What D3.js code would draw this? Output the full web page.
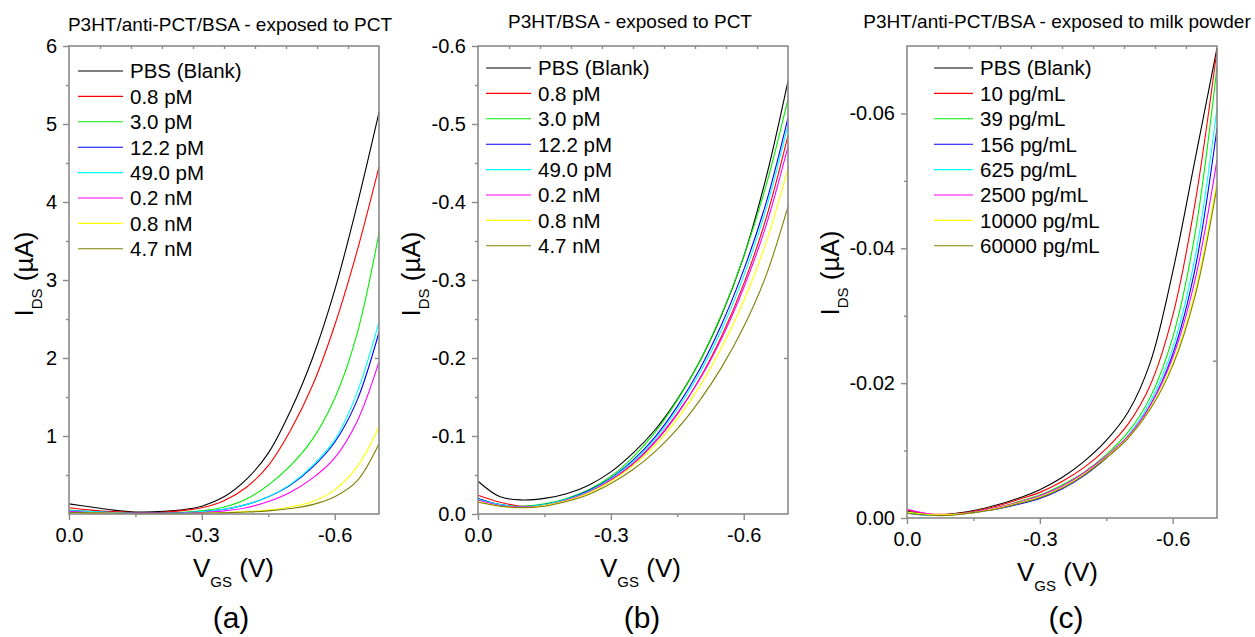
<!DOCTYPE html>
<html><head><meta charset="utf-8">
<script src="https://cdn.jsdelivr.net/npm/d3@7"></script>
<style>
body{margin:0;background:#fff}
svg{display:block}
text{font-family:"Liberation Sans",Arial,sans-serif;fill:#000}
</style>
</head><body>
<svg id="chart" width="1255" height="637"></svg>
<script>
// ---------- DATA ----------
const vgs = [0,-0.05,-0.1,-0.15,-0.2,-0.25,-0.3,-0.35,-0.4,-0.45,-0.5,-0.55,-0.6,-0.65,-0.7];

const titleA = "P3HT/anti-PCT/BSA - exposed to PCT";
const titleB = "P3HT/BSA - exposed to PCT";
const titleC = "P3HT/anti-PCT/BSA - exposed to milk powder";

const namesPCT = ["PBS (Blank)","0.8 pM","3.0 pM","12.2 pM","49.0 pM","0.2 nM","0.8 nM","4.7 nM"];
const namesMilk = ["PBS (Blank)","10 pg/mL","39 pg/mL","156 pg/mL","625 pg/mL","2500 pg/mL","10000 pg/mL","60000 pg/mL"];
const seriesColors = ["#000000","#ff0000","#00ee00","#0000ff","#00ffff","#ff00ff","#ffff00","#808000"];

// Panel (a) IDS (µA)
const a_PBS  = [0.13,0.09,0.05,0.025,0.03,0.05,0.10,0.22,0.44,0.78,1.32,2.00,2.87,3.95,5.15];
const a_0p8  = [0.08,0.05,0.03,0.02,0.02,0.04,0.08,0.17,0.34,0.62,1.07,1.65,2.42,3.36,4.45];
const a_3p0  = [0.05,0.03,0.02,0.01,0.01,0.02,0.04,0.09,0.19,0.37,0.62,0.96,1.48,2.30,3.60];
const a_12p2 = [0.04,0.03,0.02,0.01,0.01,0.01,0.03,0.06,0.12,0.22,0.37,0.60,0.92,1.45,2.33];
const a_49p0 = [0.04,0.03,0.02,0.01,0.01,0.01,0.03,0.06,0.12,0.22,0.38,0.62,0.95,1.55,2.46];
const a_0p2n = [0.03,0.02,0.01,0.01,0.01,0.01,0.02,0.04,0.08,0.16,0.28,0.46,0.72,1.18,1.95];
const a_0p8n = [0.02,0.015,0.01,0.005,0.005,0.005,0.01,0.02,0.03,0.05,0.09,0.16,0.31,0.60,1.12];
const a_4p7n = [0.02,0.015,0.01,0.005,0.005,0.005,0.01,0.015,0.025,0.04,0.07,0.12,0.22,0.42,0.90];

// Panel (b) IDS (µA)
const b_PBS  = [-0.042,-0.022,-0.018,-0.020,-0.026,-0.037,-0.054,-0.078,-0.108,-0.147,-0.195,-0.255,-0.330,-0.430,-0.555];
const b_0p8  = [-0.024,-0.015,-0.010,-0.012,-0.018,-0.028,-0.043,-0.064,-0.092,-0.128,-0.173,-0.228,-0.295,-0.378,-0.485];
const b_3p0  = [-0.020,-0.012,-0.010,-0.013,-0.020,-0.031,-0.048,-0.073,-0.105,-0.146,-0.195,-0.256,-0.330,-0.420,-0.532];
const b_12p2 = [-0.020,-0.012,-0.009,-0.012,-0.019,-0.030,-0.046,-0.069,-0.099,-0.138,-0.185,-0.243,-0.313,-0.398,-0.508];
const b_49p0 = [-0.019,-0.012,-0.009,-0.012,-0.019,-0.029,-0.045,-0.067,-0.096,-0.134,-0.180,-0.236,-0.305,-0.390,-0.499];
const b_0p2n = [-0.018,-0.011,-0.009,-0.011,-0.018,-0.028,-0.044,-0.065,-0.093,-0.129,-0.172,-0.225,-0.290,-0.369,-0.471];
const b_0p8n = [-0.016,-0.010,-0.008,-0.011,-0.017,-0.027,-0.042,-0.062,-0.088,-0.122,-0.163,-0.213,-0.273,-0.347,-0.443];
const b_4p7n = [-0.015,-0.010,-0.008,-0.010,-0.016,-0.025,-0.039,-0.057,-0.080,-0.109,-0.145,-0.188,-0.240,-0.305,-0.394];

// Panel (c) IDS (µA)
const c_PBS   = [-0.0010,-0.0005,-0.0006,-0.0011,-0.0019,-0.0029,-0.0042,-0.0060,-0.0084,-0.0115,-0.0158,-0.0232,-0.0365,-0.0530,-0.0697];
const c_10    = [-0.0012,-0.0006,-0.0006,-0.0010,-0.0017,-0.0027,-0.0038,-0.0054,-0.0075,-0.0103,-0.0140,-0.0198,-0.0300,-0.0465,-0.0694];
const c_39    = [-0.0008,-0.0005,-0.0005,-0.0009,-0.0015,-0.0024,-0.0034,-0.0049,-0.0068,-0.0094,-0.0128,-0.0180,-0.0268,-0.0420,-0.0669];
const c_156   = [-0.0007,-0.0004,-0.0005,-0.0008,-0.0013,-0.0020,-0.0029,-0.0043,-0.0063,-0.0089,-0.0120,-0.0168,-0.0243,-0.0368,-0.0578];
const c_625   = [-0.0008,-0.0004,-0.0005,-0.0008,-0.0014,-0.0022,-0.0031,-0.0045,-0.0065,-0.0091,-0.0123,-0.0173,-0.0252,-0.0385,-0.0608];
const c_2500  = [-0.0013,-0.0006,-0.0005,-0.0009,-0.0015,-0.0023,-0.0033,-0.0047,-0.0067,-0.0092,-0.0122,-0.0168,-0.0238,-0.0352,-0.0531];
const c_10000 = [-0.0009,-0.0005,-0.0005,-0.0008,-0.0014,-0.0022,-0.0031,-0.0045,-0.0065,-0.0090,-0.0120,-0.0164,-0.0230,-0.0335,-0.0500];
const c_60000 = [-0.0007,-0.0004,-0.0004,-0.0008,-0.0013,-0.0021,-0.0030,-0.0044,-0.0064,-0.0089,-0.0119,-0.0162,-0.0226,-0.0328,-0.0491];

// Axes ticks
const xMajor = [0,-0.3,-0.6];
const xMajorLabels = ["0.0","-0.3","-0.6"];
const xMinor = [-0.15,-0.45];
const xTop = [-0.07,-0.14,-0.21,-0.28,-0.35,-0.42,-0.49,-0.56,-0.63];

const yMajorA = [1,2,3,4,5,6];
const yLabelsA = ["1","2","3","4","5","6"];
const yMinorA = [0.5,1.5,2.5,3.5,4.5,5.5];
const yMajorB = [0,-0.1,-0.2,-0.3,-0.4,-0.5,-0.6];
const yLabelsB = ["0.0","-0.1","-0.2","-0.3","-0.4","-0.5","-0.6"];
const yMinorB = [-0.05,-0.15,-0.25,-0.35,-0.45,-0.55];
const yMajorC = [0,-0.02,-0.04,-0.06];
const yLabelsC = ["0.00","-0.02","-0.04","-0.06"];
const yMinorC = [-0.01,-0.03,-0.05];

// ---------- LAYOUT ----------
const panels = [
  {title:titleA, tx:230, ty:31, tag:"(a)", tagX:231,
   x0:69, x1:379, y0:46, y1:514, yDom:[0,6],
   series:[a_PBS,a_0p8,a_3p0,a_12p2,a_49p0,a_0p2n,a_0p8n,a_4p7n], names:namesPCT,
   yMajor:yMajorA, yLabels:yLabelsA, yMinor:yMinorA, yRight:[2],
   legX:78, legTX:130, legY:71, ylabX:33, ylabY:274, xlabX:193},
  {title:titleB, tx:630, ty:28, tag:"(b)", tagX:642,
   x0:478, x1:788, y0:46, y1:514, yDom:[0,-0.6],
   series:[b_PBS,b_0p8,b_3p0,b_12p2,b_49p0,b_0p2n,b_0p8n,b_4p7n], names:namesPCT,
   yMajor:yMajorB, yLabels:yLabelsB, yMinor:yMinorB, yRight:[-0.2],
   legX:486, legTX:538, legY:68, ylabX:420, ylabY:274, xlabX:600},
  {title:titleC, tx:1057, ty:28, tag:"(c)", tagX:1066,
   x0:907, x1:1217, y0:46, y1:518, yDom:[0,-0.07],
   series:[c_PBS,c_10,c_39,c_156,c_625,c_2500,c_10000,c_60000], names:namesMilk,
   yMajor:yMajorC, yLabels:yLabelsC, yMinor:yMinorC, yRight:[-0.07/3],
   legX:934, legTX:980, legY:68, ylabX:839, ylabY:273, xlabX:1017}
];

const svg = d3.select("#chart");
const axisGray = "#8a8a8a";

panels.forEach(p => {
  const g = svg.append("g");
  const x = d3.scaleLinear().domain([0,-0.7]).range([p.x0,p.x1]);
  const y = d3.scaleLinear().domain(p.yDom).range([p.y1,p.y0]);

  // curves
  const line = d3.line().x((d,i)=>x(vgs[i])).y(d=>y(d)).curve(d3.curveCatmullRom.alpha(0.5));
  p.series.forEach((s,k) => {
    g.append("path").attr("d", line(s)).attr("fill","none")
      .attr("stroke", seriesColors[k]).attr("stroke-width",1.1);
  });

  // frame
  g.append("rect").attr("x",p.x0).attr("y",p.y0).attr("width",p.x1-p.x0).attr("height",p.y1-p.y0)
    .attr("fill","none").attr("stroke",axisGray).attr("stroke-width",1.6);

  const style = sel => {
    sel.select(".domain").remove();
    sel.selectAll(".tick line").attr("stroke",axisGray).attr("stroke-width",1.4);
    sel.selectAll(".tick text").style("font-size","20px").attr("fill","#000");
  };

  // left axis
  g.append("g").attr("transform",`translate(${p.x0},0)`)
    .call(d3.axisLeft(y).tickValues(p.yMajor).tickFormat((d,i)=>p.yLabels[i]).tickSize(6).tickPadding(6))
    .call(style);
  g.append("g").attr("transform",`translate(${p.x0},0)`)
    .call(d3.axisLeft(y).tickValues(p.yMinor).tickFormat("").tickSize(3)).call(style);
  // right axis (inward)
  g.append("g").attr("transform",`translate(${p.x1},0)`)
    .call(d3.axisLeft(y).tickValues(p.yRight).tickFormat("").tickSize(4)).call(style);
  // bottom axis
  g.append("g").attr("transform",`translate(0,${p.y1})`)
    .call(d3.axisBottom(x).tickValues(xMajor).tickFormat((d,i)=>xMajorLabels[i]).tickSize(6).tickPadding(8))
    .call(style);
  g.append("g").attr("transform",`translate(0,${p.y1})`)
    .call(d3.axisBottom(x).tickValues(xMinor).tickFormat("").tickSize(3)).call(style);
  // top axis (inward)
  g.append("g").attr("transform",`translate(0,${p.y0})`)
    .call(d3.axisBottom(x).tickValues(xTop).tickFormat("").tickSize(3)).call(style);

  // title
  g.append("text").attr("x",p.tx).attr("y",p.ty).attr("text-anchor","middle")
    .style("font-size","19px").text(p.title);

  // legend
  p.names.forEach((n,k) => {
    const yy = p.legY + k*25.4;
    g.append("line").attr("x1",p.legX).attr("x2",p.legTX-7).attr("y1",yy).attr("y2",yy)
      .attr("stroke",seriesColors[k]).attr("stroke-width",1.1);
    g.append("text").attr("x",p.legTX).attr("y",yy).attr("dy","0.36em")
      .style("font-size","20.5px").text(n);
  });

  // x label
  const xl = g.append("text").attr("x",p.xlabX).attr("y",p.y1+63).style("font-size","26px");
  xl.append("tspan").text("V");
  xl.append("tspan").attr("dy",10).style("font-size","15px").text("GS");
  xl.append("tspan").attr("dy",-10).text(" (V)");

  // y label
  const yl = g.append("text").attr("transform",`translate(${p.ylabX},${p.ylabY}) rotate(-90)`)
    .attr("text-anchor","middle").style("font-size","26px");
  yl.append("tspan").text("I");
  yl.append("tspan").attr("dy",9).style("font-size","15px").text("DS");
  yl.append("tspan").attr("dy",-9).text(" (\u00b5A)");

  // panel tag
  g.append("text").attr("x",p.tagX).attr("y",628).attr("text-anchor","middle")
    .style("font-size","30px").text(p.tag);
});
</script>
</body></html>
